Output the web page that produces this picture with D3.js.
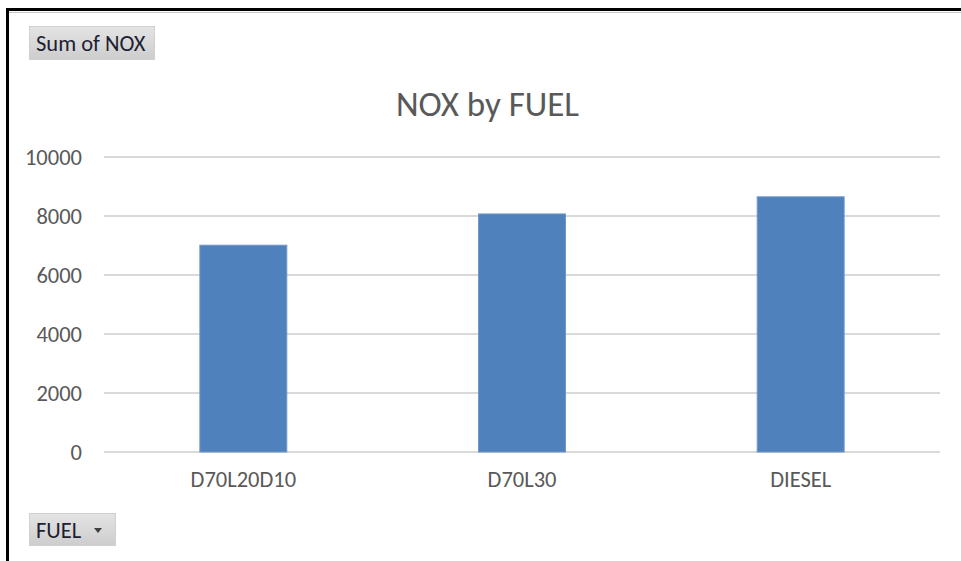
<!DOCTYPE html>
<html>
<head>
<meta charset="utf-8">
<title>NOX by FUEL</title>
<script src="https://cdn.jsdelivr.net/npm/d3@7"></script>
<style>
	html, body { margin: 0; padding: 0; background: #fff; }
	svg { display: block; font-family: Calibri, Carlito, 'Liberation Sans', Arial, sans-serif; }
</style>
</head>
<body>
<div id="canvas"></div>
<script>
/**
 * NOX by FUEL - pivot chart
 */

// Data
var fuels = ['D70L20D10', 'D70L30', 'DIESEL'],
	noxSums = [7010, 8070, 8650],
	yTicks = [0, 2000, 4000, 6000, 8000, 10000];

document.addEventListener('DOMContentLoaded', function(e) {

	// UI
	var width = 961,
		height = 561,
		barColor = '#4F81BD',
		gridColor = '#D9D9D9',
		textColor = '#595959',
		labelSize = '22.5px',
		svg = d3.select('#canvas').append('svg')
			.attr('width', width)
			.attr('height', height);

	var x = d3.scaleBand()
			.domain(fuels)
			.range([104, 940])
			.paddingInner(0.688)
			.paddingOuter(0.344),
		y = d3.scaleLinear()
			.domain([0, 10000])
			.range([452, 157]);

	// Button gradient
	var grad = svg.append('defs').append('linearGradient')
		.attr('id', 'btnGrad')
		.attr('x1', 0).attr('y1', 0).attr('x2', 0).attr('y2', 1);
	grad.append('stop').attr('offset', '0%').attr('stop-color', '#E4E4E4');
	grad.append('stop').attr('offset', '100%').attr('stop-color', '#CDCDCD');

	// Frame (only top and left edges fall inside the picture)
	svg.append('line')
		.attr('x1', 6).attr('x2', width)
		.attr('y1', 12.5).attr('y2', 12.5)
		.attr('stroke', '#C8C8C8');
	svg.append('rect')
		.attr('x', 7.5).attr('y', 9.5)
		.attr('width', width + 20).attr('height', height + 20)
		.attr('fill', 'none')
		.attr('stroke', '#000')
		.attr('stroke-width', 3);

	// Gridlines
	svg.append('g')
		.selectAll('line')
		.data(yTicks)
		.enter()
			.append('line')
			.attr('x1', 104)
			.attr('x2', 940)
			.attr('y1', function(d) { return y(d); })
			.attr('y2', function(d) { return y(d); })
			.attr('stroke', gridColor)
			.attr('stroke-width', 2);

	// Y axis labels
	var yAxis = svg.append('g')
		.attr('transform', 'translate(84,0)')
		.call(d3.axisLeft(y).tickValues(yTicks).tickSize(0).tickPadding(2).tickFormat(d3.format('d')))
		.attr('font-family', null)
		.attr('font-size', null);
	yAxis.select('.domain').remove();
	yAxis.selectAll('text')
		.attr('fill', textColor)
		.style('font-size', labelSize);

	// Bars
	svg.append('g')
		.selectAll('rect')
		.data(noxSums)
		.enter()
			.append('rect')
			.attr('x', function(d, i) { return x(fuels[i]); })
			.attr('y', function(d) { return y(d); })
			.attr('width', x.bandwidth())
			.attr('height', function(d) { return y(0) - y(d); })
			.attr('fill', barColor)
			.attr('stroke', '#6F97C9')
			.attr('stroke-width', 1);

	// X axis labels
	var xAxis = svg.append('g')
		.attr('transform', 'translate(0,471)')
		.call(d3.axisBottom(x).tickSize(0).tickPadding(0))
		.attr('font-family', null)
		.attr('font-size', null);
	xAxis.select('.domain').remove();
	xAxis.selectAll('text')
		.attr('fill', textColor)
		.style('font-size', labelSize);

	// Title
	svg.append('text')
		.attr('x', 487.5)
		.attr('y', 116)
		.attr('text-anchor', 'middle')
		.attr('fill', textColor)
		.style('font-size', '35px')
		.text('NOX by FUEL');

	// Field buttons
	function button(bx, by, bw, bh, label) {
		var g = svg.append('g');
		g.append('rect')
			.attr('x', bx + 0.5).attr('y', by + 0.5)
			.attr('width', bw).attr('height', bh)
			.attr('fill', 'url(#btnGrad)')
			.attr('stroke', '#D0D0D0');
		g.append('text')
			.attr('x', bx + 7)
			.attr('y', by + 25)
			.attr('fill', '#1E1E32')
			.style('font-size', labelSize)
			.text(label);
		return g;
	}
	button(29, 26, 125, 33, 'Sum of NOX');
	var fuelBtn = button(29, 513, 86, 32, 'FUEL');
	fuelBtn.append('path')
		.attr('d', 'M94,528 L102,528 L98,533 Z')
		.attr('fill', '#404040');

});
</script>
</body>
</html>
